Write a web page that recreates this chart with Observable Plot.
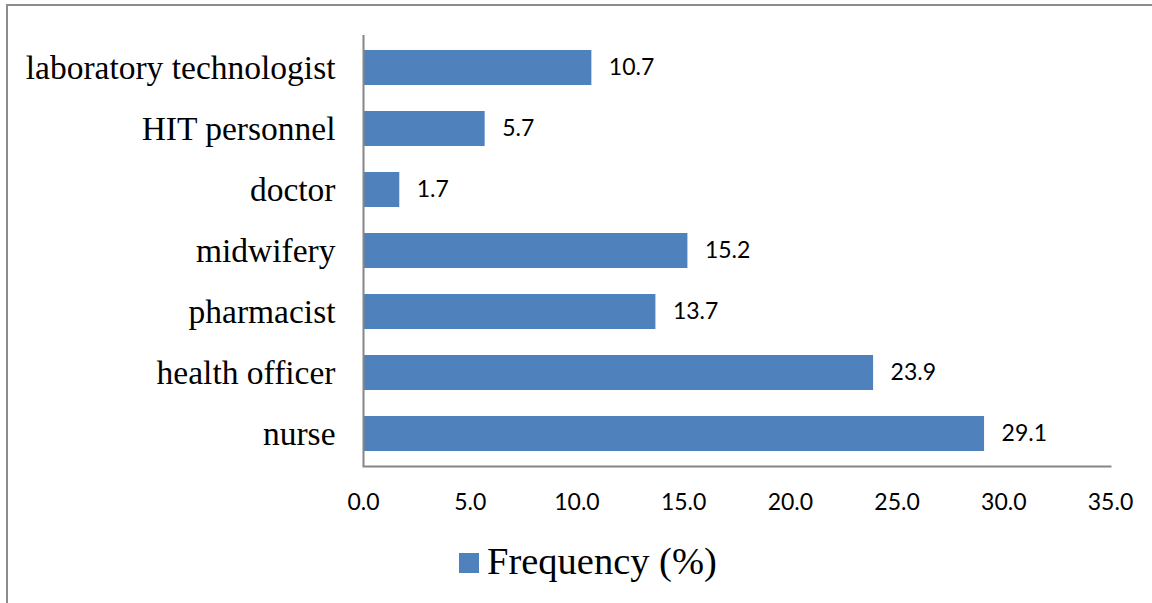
<!DOCTYPE html>
<html>
<head>
<meta charset="utf-8">
<script src="https://cdn.jsdelivr.net/npm/d3@7"></script>
<script src="https://cdn.jsdelivr.net/npm/@observablehq/plot@0.6"></script>
<style>
  html, body { margin: 0; padding: 0; background: white; }
  #wrap { position: relative; width: 1152px; height: 603px; overflow: hidden; background: white; }
  #border { position: absolute; left: 6px; top: 4px; width: 1146px; height: 599px;
            border-top: 2px solid #8c8c8c; border-left: 2px solid #8c8c8c; pointer-events: none; }
  #legend { position: relative; height: 73px; }
  #legend .sw { position: absolute; left: 459px; top: 23px; width: 20px; height: 20px; background: #4f81bd; }
  #legend .lb { position: absolute; left: 487px; top: 12px; line-height: 38px; white-space: nowrap;
                font-family: "Liberation Serif", "Times New Roman", serif; font-size: 38.5px; color: #000; }
</style>
</head>
<body>
<div id="wrap">
  <div id="chart"></div>
  <div id="legend"><div class="sw"></div><div class="lb">Frequency (%)</div></div>
  <div id="border"></div>
</div>
<script>
const roles = ["laboratory technologist", "HIT personnel", "doctor", "midwifery", "pharmacist", "health officer", "nurse"];
const frequency = [10.7, 5.7, 1.7, 15.2, 13.7, 23.9, 29.1];
const xTicks = [0, 5, 10, 15, 20, 25, 30, 35];
const seriesName = "Frequency (%)";

const data = roles.map((r, i) => ({role: r, value: frequency[i]}));
const barColor = "#4f81bd";
const axisColor = "#868686";

const chart = Plot.plot({
  width: 1152,
  height: 530,
  marginLeft: 363,
  marginRight: 42,
  marginTop: 35,
  marginBottom: 64,
  style: {background: "white", color: "#000"},
  x: {domain: [0, 35], ticks: xTicks, label: null},
  y: {domain: roles, paddingInner: 0.424, paddingOuter: 0.212, label: null},
  marks: [
    Plot.barX(data, {x: "value", y: "role", fill: barColor, insetLeft: 1}),
    Plot.text(data, {x: "value", y: "role", text: d => d.value.toFixed(1), textAnchor: "start", dx: 17,
      fontFamily: "Lato, 'Open Sans', sans-serif", fontSize: 23, fill: "#000"}),
    Plot.ruleX([0], {stroke: axisColor, strokeWidth: 2}),
    Plot.frame({anchor: "bottom", stroke: axisColor, strokeWidth: 2}),
    Plot.axisX({ticks: xTicks, tickSize: 0, tickPadding: 27, tickFormat: d => d.toFixed(1),
      fontFamily: "Lato, 'Open Sans', sans-serif", fontSize: 23, fill: "#000", label: null}),
    Plot.axisY({tickSize: 0, tickPadding: 28, fontFamily: "'Liberation Serif', 'Times New Roman', serif",
      fontSize: 33.5, fill: "#000", label: null})
  ]
});
document.getElementById("chart").appendChild(chart);
</script>
</body>
</html>
